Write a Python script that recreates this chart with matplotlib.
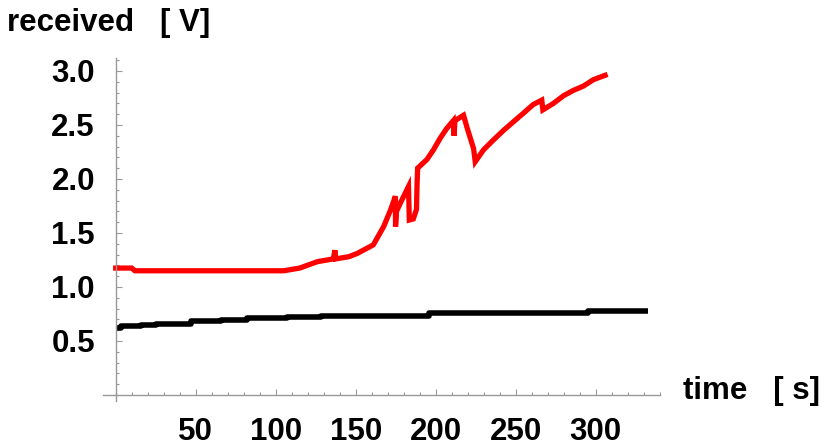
import matplotlib
matplotlib.use("Agg")
import matplotlib.pyplot as plt
from matplotlib.ticker import MultipleLocator

plt.rcParams['font.family'] = ['Liberation Sans', 'DejaVu Sans']

# received signal (red)
red_t = [0, 10, 12, 40, 80, 105, 115, 126, 136, 137, 137.5, 145.6, 150.9, 161,
         167.5, 171.7, 174.8, 174.9, 175.5, 178, 180, 183, 183.5, 186, 188,
         188.3, 188.7, 194.5, 198.6, 202.9, 207, 211, 211.5, 212, 217.4,
         219.5, 221.6, 223.7, 224.7, 229.9, 236, 242.4, 248.6, 254.9, 261,
         266.3, 267, 273.6, 279.8, 286, 292.3, 298.6, 305.9]
red_v = [1.175, 1.175, 1.15, 1.15, 1.15, 1.15, 1.175, 1.234, 1.26, 1.34, 1.26,
         1.28, 1.31, 1.39, 1.56, 1.71, 1.84, 1.56, 1.70, 1.78, 1.84, 1.93,
         1.62, 1.63, 1.72, 1.93, 2.10, 2.18, 2.27, 2.38, 2.47, 2.54, 2.40,
         2.54, 2.59, 2.48, 2.38, 2.28, 2.16, 2.27, 2.36, 2.45, 2.53, 2.61,
         2.69, 2.73, 2.64, 2.70, 2.77, 2.82, 2.86, 2.92, 2.96]

# reference signal (black), step-like levels
black_t = [0, 3, 16, 25, 38, 47, 66, 82, 107, 128, 165, 196, 255, 295, 333]
black_v = [0.617, 0.639, 0.645, 0.66, 0.66, 0.688, 0.694, 0.713, 0.725,
           0.734, 0.734, 0.756, 0.762, 0.778, 0.778]

x_ticks = [50, 100, 150, 200, 250, 300]
y_ticks = [0.5, 1.0, 1.5, 2.0, 2.5, 3.0]

fig = plt.figure(figsize=(8.28, 4.47), dpi=100)
ax = fig.add_axes([0.1248, 0.1036, 0.6723, 0.7666])

ax.plot(black_t, black_v, color='black', lw=4.0, drawstyle='steps-post',
        solid_capstyle='butt')
ax.plot(red_t, red_v, color='#ff0000', lw=3.8, solid_joinstyle='miter')

ax.set_xlim(-7.75, 340.2)
ax.set_ylim(-0.053, 3.12)

for side in ['top', 'right']:
    ax.spines[side].set_visible(False)
ax.spines['left'].set_position(('data', 0))
ax.spines['bottom'].set_position(('data', 0))
for side in ['left', 'bottom']:
    ax.spines[side].set_color('#999999')
    ax.spines[side].set_linewidth(1.0)

ax.set_xticks(x_ticks)
ax.set_yticks(y_ticks)
ax.xaxis.set_minor_locator(MultipleLocator(10))
ax.yaxis.set_minor_locator(MultipleLocator(0.1))
ax.tick_params(which='both', direction='in', color='#999999', width=0.8)
ax.tick_params(which='major', length=4.3)
ax.tick_params(which='minor', length=2.2)
ax.tick_params(axis='x', which='major', pad=16, labelsize=22.5)
ax.tick_params(axis='y', which='major', pad=15, labelsize=22.5)
for lab in ax.get_xticklabels() + ax.get_yticklabels():
    lab.set_fontweight('bold')

fig.text(7 / 828, 1 - 31 / 447, 'received   [ V]', fontsize=22.5,
         fontweight='bold', ha='left', va='baseline')
fig.text(683 / 828, 1 - 399 / 447, 'time   [ s]', fontsize=22.5,
         fontweight='bold', ha='left', va='baseline')

fig.savefig('out.png', dpi=100)
